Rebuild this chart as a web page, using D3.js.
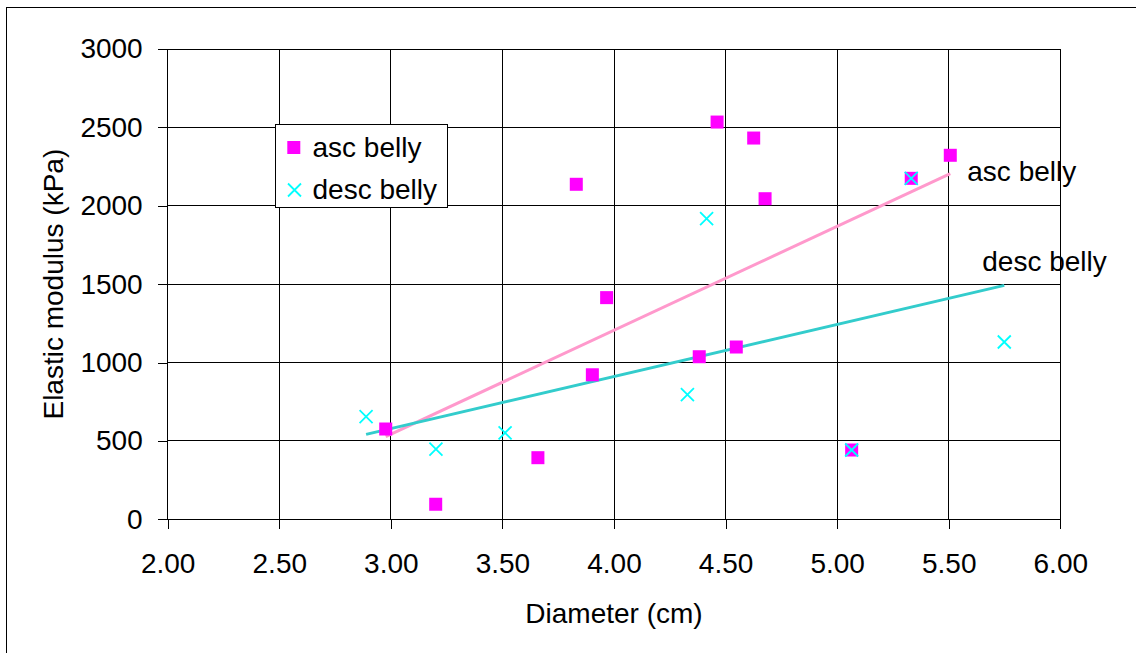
<!doctype html>
<html>
<head>
  <title> Elastic modulus vs diameter </title>
<style>
  body { margin:0; background:white; }
  svg { width:1136px; height:653px; display:block; }
  text { font-family: Arial, "Liberation Sans", sans-serif; font-size:28px; fill:black; }
  .grid line { stroke:#000; stroke-width:1px; shape-rendering:crispEdges; }
  .axis path { display:none; }
  .axis line { stroke:#000; stroke-width:1px; shape-rendering:crispEdges; }
  .axis text { font-size:28px; }
</style>
<script type="text/javascript" src="https://d3js.org/d3.v7.min.js"></script>
</head>
<body>
<svg id="chart"></svg>
<script>

  // asc belly (squares)
  var ascX = [2.977, 3.201, 3.659, 3.831, 3.967, 3.903, 4.382, 4.548, 4.462, 4.626, 4.677, 5.332, 5.065, 5.507]
  var ascY = [576, 96, 393, 2137, 1414, 922, 1037, 1099, 2534, 2432, 2045, 2175, 442, 2322]

  // desc belly (crosses)
  var descX = [2.889, 3.202, 3.512, 4.329, 4.415, 5.332, 5.065, 5.749]
  var descY = [655, 448, 552, 795, 1918, 2175, 442, 1131]

  var xTicks = [2.0, 2.5, 3.0, 3.5, 4.0, 4.5, 5.0, 5.5, 6.0]
  var yTicks = [0, 500, 1000, 1500, 2000, 2500, 3000]

  var seriesNames = ["asc belly", "desc belly"]

  var svg = d3.select("#chart")

  // outer chart border (right and bottom edges fall outside the picture)
  svg.append("rect")
     .attr("x", 6.5).attr("y", 7.5)
     .attr("width", 1200).attr("height", 700)
     .attr("fill", "white").attr("stroke", "black").attr("stroke-width", 1)

  var xScale = d3.scaleLinear().domain([2, 6]).range([167.7, 1060.3])
  var yScale = d3.scaleLinear().domain([0, 3000]).range([519.3, 49])

  // grid
  var grid = svg.append("g").attr("class", "grid")
  grid.selectAll("line.v").data(xTicks).enter()
      .append("line").attr("class", "v")
      .attr("x1", function(d){return xScale(d);}).attr("x2", function(d){return xScale(d);})
      .attr("y1", yScale(0)).attr("y2", yScale(3000))
  grid.selectAll("line.h").data(yTicks).enter()
      .append("line").attr("class", "h")
      .attr("x1", xScale(2)).attr("x2", xScale(6))
      .attr("y1", function(d){return yScale(d);}).attr("y2", function(d){return yScale(d);})

  // axes
  svg.append("g")
     .attr("class", "axis")
     .attr("transform", "translate(0," + yScale(0) + ")")
     .call(d3.axisBottom(xScale).tickValues(xTicks).tickFormat(d3.format(".2f"))
             .tickSize(10).tickSizeOuter(0).tickPadding(24))

  svg.append("g")
     .attr("class", "axis")
     .attr("transform", "translate(" + xScale(2) + ",0)")
     .call(d3.axisLeft(yScale).tickValues(yTicks).tickFormat(d3.format("d"))
             .tickSize(10).tickSizeOuter(0).tickPadding(15))

  svg.selectAll(".axis text").style("font-family", "Arial, 'Liberation Sans', sans-serif")

  // axis titles
  svg.append("text")
     .attr("x", (xScale(2) + xScale(6)) / 2).attr("y", 622.7)
     .attr("text-anchor", "middle")
     .text("Diameter (cm)")

  svg.append("text")
     .attr("transform", "translate(63," + (yScale(0) + yScale(3000)) / 2 + ") rotate(-90)")
     .attr("text-anchor", "middle")
     .text("Elastic modulus (kPa)")

  // linear trend lines (least squares over each series)
  function fit(xs, ys) {
    var mx = d3.mean(xs), my = d3.mean(ys)
    var sxy = 0, sxx = 0
    for (var i=0; i<xs.length; i++) {
      sxy += (xs[i]-mx)*(ys[i]-my)
      sxx += (xs[i]-mx)*(xs[i]-mx)
    }
    var b = sxy / sxx
    var a = my - b*mx
    var x0 = d3.min(xs), x1 = d3.max(xs)
    return [[x0, a + b*x0], [x1, a + b*x1]]
  }

  var ascLine = fit(ascX, ascY)
  var descLine = fit(descX, descY)

  var line = d3.line()
               .x(function(d){return xScale(d[0]);})
               .y(function(d){return yScale(d[1]);})

  svg.append("path").datum(ascLine).attr("d", line)
     .attr("fill", "none").attr("stroke", "#FF99CC").attr("stroke-width", 3)
  svg.append("path").datum(descLine).attr("d", line)
     .attr("fill", "none").attr("stroke", "#33CCCC").attr("stroke-width", 3)

  // trend line labels
  svg.append("text")
     .attr("x", xScale(ascLine[1][0]) + 17).attr("y", yScale(ascLine[1][1]) + 7)
     .text(seriesNames[0])
  svg.append("text")
     .attr("x", xScale(descLine[1][0]) - 22).attr("y", yScale(descLine[1][1]) - 14)
     .text(seriesNames[1])

  // asc belly squares
  var sq = 13
  svg.selectAll("rect.asc").data(ascX).enter()
     .append("rect").attr("class", "asc")
     .attr("x", function(d){return xScale(d) - sq/2;})
     .attr("y", function(d,i){return yScale(ascY[i]) - sq/2;})
     .attr("width", sq).attr("height", sq)
     .attr("fill", "#FF00FF")

  // desc belly crosses
  var cr = 6.5
  var cross = svg.selectAll("g.desc").data(descX).enter()
     .append("g").attr("class", "desc")
     .attr("transform", function(d,i){return "translate(" + xScale(d) + "," + yScale(descY[i]) + ")";})
  cross.append("path")
     .attr("d", "M" + (-cr) + "," + (-cr) + "L" + cr + "," + cr + "M" + (-cr) + "," + cr + "L" + cr + "," + (-cr))
     .attr("stroke", "#00FFFF").attr("stroke-width", 1.8).attr("fill", "none")

  // legend
  var legend = svg.append("g").attr("transform", "translate(275.5,124.5)")
  legend.append("rect")
        .attr("width", 172).attr("height", 83)
        .attr("fill", "white").attr("stroke", "black").attr("stroke-width", 1)
  legend.append("rect")
        .attr("x", 18 - sq/2 + 0.3).attr("y", 23 - sq/2)
        .attr("width", sq).attr("height", sq).attr("fill", "#FF00FF")
  legend.append("path")
        .attr("transform", "translate(19,65.5)")
        .attr("d", "M" + (-cr) + "," + (-cr) + "L" + cr + "," + cr + "M" + (-cr) + "," + cr + "L" + cr + "," + (-cr))
        .attr("stroke", "#00FFFF").attr("stroke-width", 1.8).attr("fill", "none")
  legend.selectAll("text.lg").data(seriesNames).enter()
        .append("text").attr("class", "lg")
        .attr("x", 37)
        .attr("y", function(d,i){return 32 + i*42;})
        .text(function(d){return d;})

</script>
</body>
</html>
